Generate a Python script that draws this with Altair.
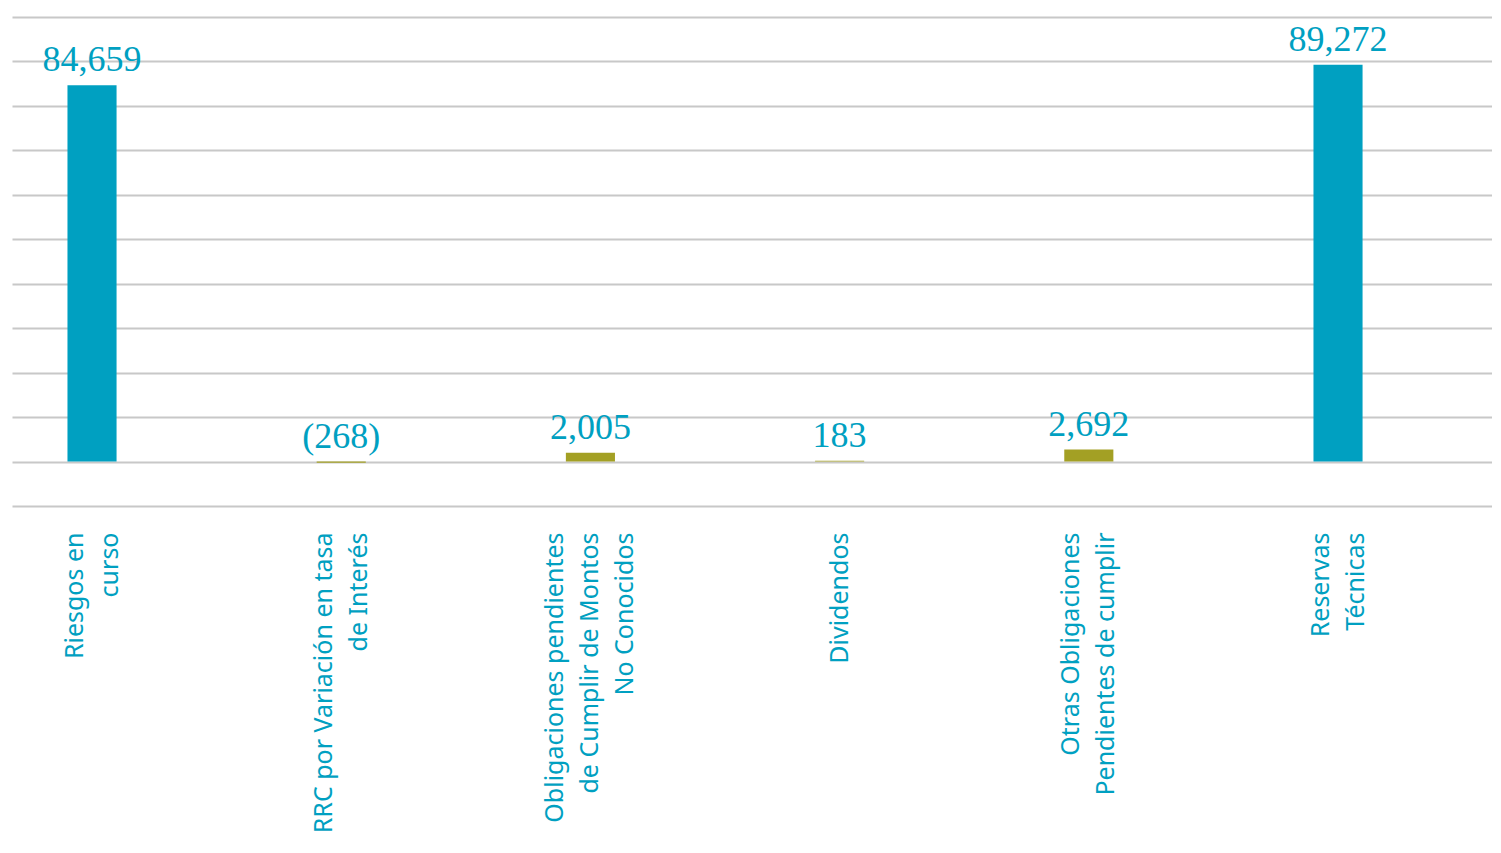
import altair as alt
import pandas as pd

categories = [
    "Riesgos en|curso",
    "RRC por Variación en tasa|de Interés",
    "Obligaciones pendientes|de Cumplir de Montos|No Conocidos",
    "Dividendos",
    "Otras Obligaciones|Pendientes de cumplir",
    "Reservas|Técnicas",
]
values = [84659, -268, 2005, 183, 2692, 89272]
kinds = ["total", "delta", "delta", "delta", "delta", "total"]

df = pd.DataFrame({"cat": categories, "value": values, "kind": kinds})

TEAL = "#00a0c1"
OLIVE = "#a3a024"
LH = 35

x = alt.X(
    "cat:N",
    sort=categories,
    scale=alt.Scale(paddingInner=0.803, paddingOuter=0.371, align=0.30),
    axis=alt.Axis(
        title=None,
        labelAngle=270,
        labelAlign="right",
        labelBaseline="middle",
        labelExpr="split(datum.label, '|')",
        labelFont="Noto Sans",
        labelFontSize=25,
        labelLineHeight=LH,
        labelColor=TEAL,
        labelLimit=500,
        labelPadding=26,
        labelOffset={
            "condition": [
                {"test": "length(split(datum.value, '|')) == 3", "value": -LH},
                {"test": "length(split(datum.value, '|')) == 2", "value": -LH / 2},
            ],
            "value": 0,
        },
        ticks=False,
        domain=False,
        grid=False,
    ),
)

y = alt.Y(
    "value:Q",
    scale=alt.Scale(domain=[-10000, 100000], nice=False, zero=True),
    axis=alt.Axis(
        title=None,
        labels=False,
        ticks=False,
        domain=False,
        values=list(range(-10000, 100001, 10000)),
        gridColor="#c8c8c8",
        gridWidth=2,
        gridOpacity=1,
    ),
)

base = alt.Chart(df)

bars = base.mark_bar().encode(
    x=x,
    y=y,
    color=alt.Color(
        "kind:N",
        scale=alt.Scale(domain=["total", "delta"], range=[TEAL, OLIVE]),
        legend=None,
    ),
)

labels = (
    base.transform_calculate(
        top="max(datum.value, 0)",
        txt="datum.value < 0 ? '(' + format(-datum.value, ',') + ')' : format(datum.value, ',')",
    )
    .mark_text(
        font="Liberation Serif",
        fontSize=36,
        color=TEAL,
        baseline="alphabetic",
        align="center",
        dy=-14,
    )
    .encode(
        x=alt.X("cat:N", sort=categories),
        y=alt.Y("top:Q"),
        text="txt:N",
    )
)

chart = (
    alt.layer(bars, labels)
    .properties(
        width=1480,
        height=489,
        padding={"left": 4, "top": 9, "right": 0, "bottom": 337},
        autosize=alt.AutoSizeParams(type="none"),
        background="white",
    )
    .configure_view(stroke=None)
)

chart.save("out.html", embed_options={"renderer": "svg", "actions": False})
